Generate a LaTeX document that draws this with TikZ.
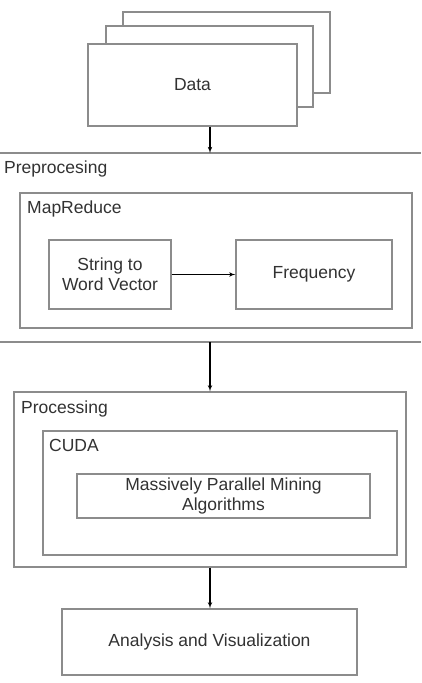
\documentclass[tikz,border=0pt]{standalone}
\usepackage{fontspec}
\setmainfont{Liberation Sans}
\usetikzlibrary{positioning}
\usetikzlibrary{arrows}

\definecolor{boxgray}{RGB}{140,140,140}
\definecolor{txtgray}{RGB}{50,50,50}

\begin{document}
\begin{tikzpicture}[>=latex', x=1pt, y=-1pt]
    \tikzset{block/.style= {draw=boxgray, line width=1.3pt, fill=white, rectangle, align=center, text=txtgray, inner sep=0pt},
             tag/.style= {anchor=west, text=txtgray, inner sep=0pt},
             flow/.style= {->, line width=1.1pt, black},}
    \useasboundingbox (0,0) rectangle (421,683);
    \fontsize{17.5}{20}\selectfont

    % stacked data sheets
    \node [block, minimum width=207pt, minimum height=81pt] (data3) at (226.5,52.5) {};
    \node [block, minimum width=207pt, minimum height=81pt] (data2) at (209.5,66.5) {};
    \node [block, minimum width=209pt, minimum height=82pt] (data) at (192.5,85) {Data};

    % preprocessing band
    \coordinate (preTop) at (210,153);
    \coordinate (preBot) at (210,342);
    \draw [boxgray, line width=1.3pt] (0,153) -- (421,153);
    \draw [boxgray, line width=1.3pt] (0,342) -- (421,342);
    \node [tag] (pre) at (4,169) {Preprocesing};

    \node [block, minimum width=392pt, minimum height=135pt] (mr) at (216,260.5) {};
    \node [tag] (mrtag) at (27,209) {MapReduce};
    \node [block, minimum width=122pt, minimum height=69pt] (s2w) at (110,274.5) {String to\\Word Vector};
    \node [block, minimum width=156pt, minimum height=69pt] (freq) at (314,274.5) {Frequency};

    % processing
    \node [block, minimum width=392pt, minimum height=175pt] (proc) at (210,479.5) {};
    \node [tag] (proctag) at (21,409) {Processing};
    \node [block, minimum width=354pt, minimum height=124pt] (cuda) at (220,493) {};
    \node [tag] (cudatag) at (49,445) {CUDA};
    \node [block, minimum width=293pt, minimum height=44pt] (mine) at (223.5,496) {Massively Parallel Mining\\Algorithms};

    \node [block, minimum width=295pt, minimum height=66pt] (ana) at (209.5,642) {Analysis and Visualization};

    \draw [flow] (data.south -| preTop) -- (preTop);
    \draw [flow] (s2w) -- (freq);
    \draw [flow] (preBot) -- (proc.north -| preBot);
    \draw [flow] (proc.south -| preBot) -- (ana.north -| preBot);
\end{tikzpicture}
\end{document}
